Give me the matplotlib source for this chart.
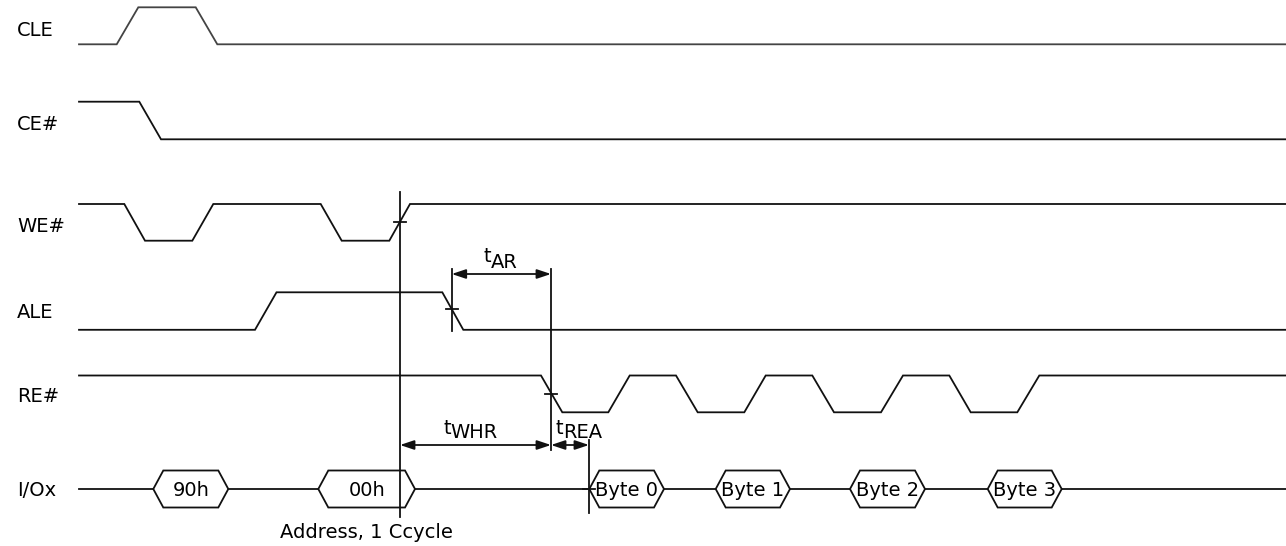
import matplotlib
matplotlib.use("Agg")
import matplotlib.pyplot as plt
from matplotlib.patches import Polygon

# Signal names and label rows (pixel y of the label)
signal_names = ["CLE", "CE#", "WE#", "ALE", "RE#", "I/Ox"]
label_y = [30, 124, 227, 313, 397, 490]

# Waveforms: edge times (x) and logic level at each point
cle_x = [79, 116.7, 138.3, 195.7, 217.3, 1286]
cle_lvl = [0, 0, 1, 1, 0, 0]
ce_x = [79, 139.3, 161, 1286]
ce_lvl = [1, 1, 0, 0]
we_x = [79, 124.3, 145, 192.3, 213.3, 320.7, 341.7, 389.3, 410, 1286]
we_lvl = [1, 1, 0, 0, 1, 1, 0, 0, 1, 1]
ale_x = [79, 255, 276.5, 442.3, 463.3, 1286]
ale_lvl = [0, 0, 1, 1, 0, 0]
re_x = [79, 541, 562.3, 608.3, 629.7, 676, 697.7, 744.3, 765.7,
        812.3, 834, 881, 903, 949.3, 970.7, 1017.3, 1039.3, 1286]
re_lvl = [1, 1, 0, 0, 1, 1, 0, 0, 1, 1, 0, 0, 1, 1, 0, 0, 1, 1]

# Bus (I/Ox) values: label, left point, right point
bus_labels = ["90h", "00h", "Byte 0", "Byte 1", "Byte 2", "Byte 3"]
bus_left = [153.3, 318.3, 589.3, 715.7, 850, 987.7]
bus_right = [228.3, 415, 664, 790, 925, 1061.7]

# Timing parameters: name, subscript, start, end, arrow y
timing_main = ["t", "t", "t"]
timing_sub = ["AR", "WHR", "REA"]
timing_start = [451.7, 400, 551]
timing_end = [551, 551, 589]
timing_y = [274, 445, 445]

FONT = "DejaVu Sans"
FS = 14
LW = 1.3
COL = "#111111"

fig = plt.figure(figsize=(12.86, 5.46), dpi=100)
ax = fig.add_axes([0, 0, 1, 1])
ax.set_xlim(0, 1286)
ax.set_ylim(546, 0)
ax.axis("off")


def wave(xs, lvls, y_hi, y_lo, color=COL):
    ys = [y_hi if v else y_lo for v in lvls]
    ax.plot(xs, ys, color=color, lw=LW, solid_joinstyle="miter")


wave(cle_x, cle_lvl, 7.3, 44.3, color="#444444")
wave(ce_x, ce_lvl, 101.7, 139.3)
wave(we_x, we_lvl, 204, 240.7)
wave(ale_x, ale_lvl, 292.3, 329.8)
wave(re_x, re_lvl, 375.5, 412.3)

# bus line and hexagons
bus_y, bus_h, slope = 489, 18.5, 10
ax.plot([79, 1286], [bus_y, bus_y], color=COL, lw=LW, zorder=1)
for lab, xl, xr in zip(bus_labels, bus_left, bus_right):
    pts = [(xl, bus_y), (xl + slope, bus_y - bus_h), (xr - slope, bus_y - bus_h),
           (xr, bus_y), (xr - slope, bus_y + bus_h), (xl + slope, bus_y + bus_h)]
    ax.add_patch(Polygon(pts, closed=True, facecolor="white", edgecolor=COL,
                         lw=LW, zorder=2))
    ax.text((xl + xr) / 2, bus_y + 1, lab, ha="center", va="center",
            fontsize=FS, family=FONT, zorder=3)

# signal labels
for name, y in zip(signal_names, label_y):
    ax.text(17, y, name, ha="left", va="center", fontsize=FS, family=FONT)

# reference (vertical) lines
vlines = [(400, 192, 517), (451.7, 269, 331), (551, 269, 450), (589.3, 440, 513)]
for x, y0, y1 in vlines:
    ax.plot([x, x], [y0, y1], color=COL, lw=LW, zorder=4)

# crossing ticks on edges
ticks = [(400, 221.7), (451.7, 309.3), (551, 394), (589.3, 489)]
for x, y in ticks:
    ax.plot([x - 6, x + 6], [y, y], color=COL, lw=LW, zorder=4)

# timing arrows with subscripted labels
for x0, x1, y in zip(timing_start, timing_end, timing_y):
    ax.annotate("", xy=(x1, y), xytext=(x0, y),
                arrowprops=dict(arrowstyle="<|-|>,head_length=0.6,head_width=0.2",
                                mutation_scale=14, color=COL, lw=LW,
                                shrinkA=0, shrinkB=0))

# label positions (pixel): start x of "t", centre y
lab_pos = [(483, 257), (443, 428), (556, 428)]
for t, sub, (lx, ly) in zip(timing_main, timing_sub, lab_pos):
    ax.text(lx, ly, t, ha="left", va="center", fontsize=FS, family=FONT)
    ax.text(lx + 7.5, ly + 5, sub, ha="left", va="center", fontsize=FS, family=FONT)

ax.text(366.7, 533, "Address, 1 Ccycle", ha="center", va="center",
        fontsize=FS, family=FONT)

fig.savefig("out.png", dpi=100)
